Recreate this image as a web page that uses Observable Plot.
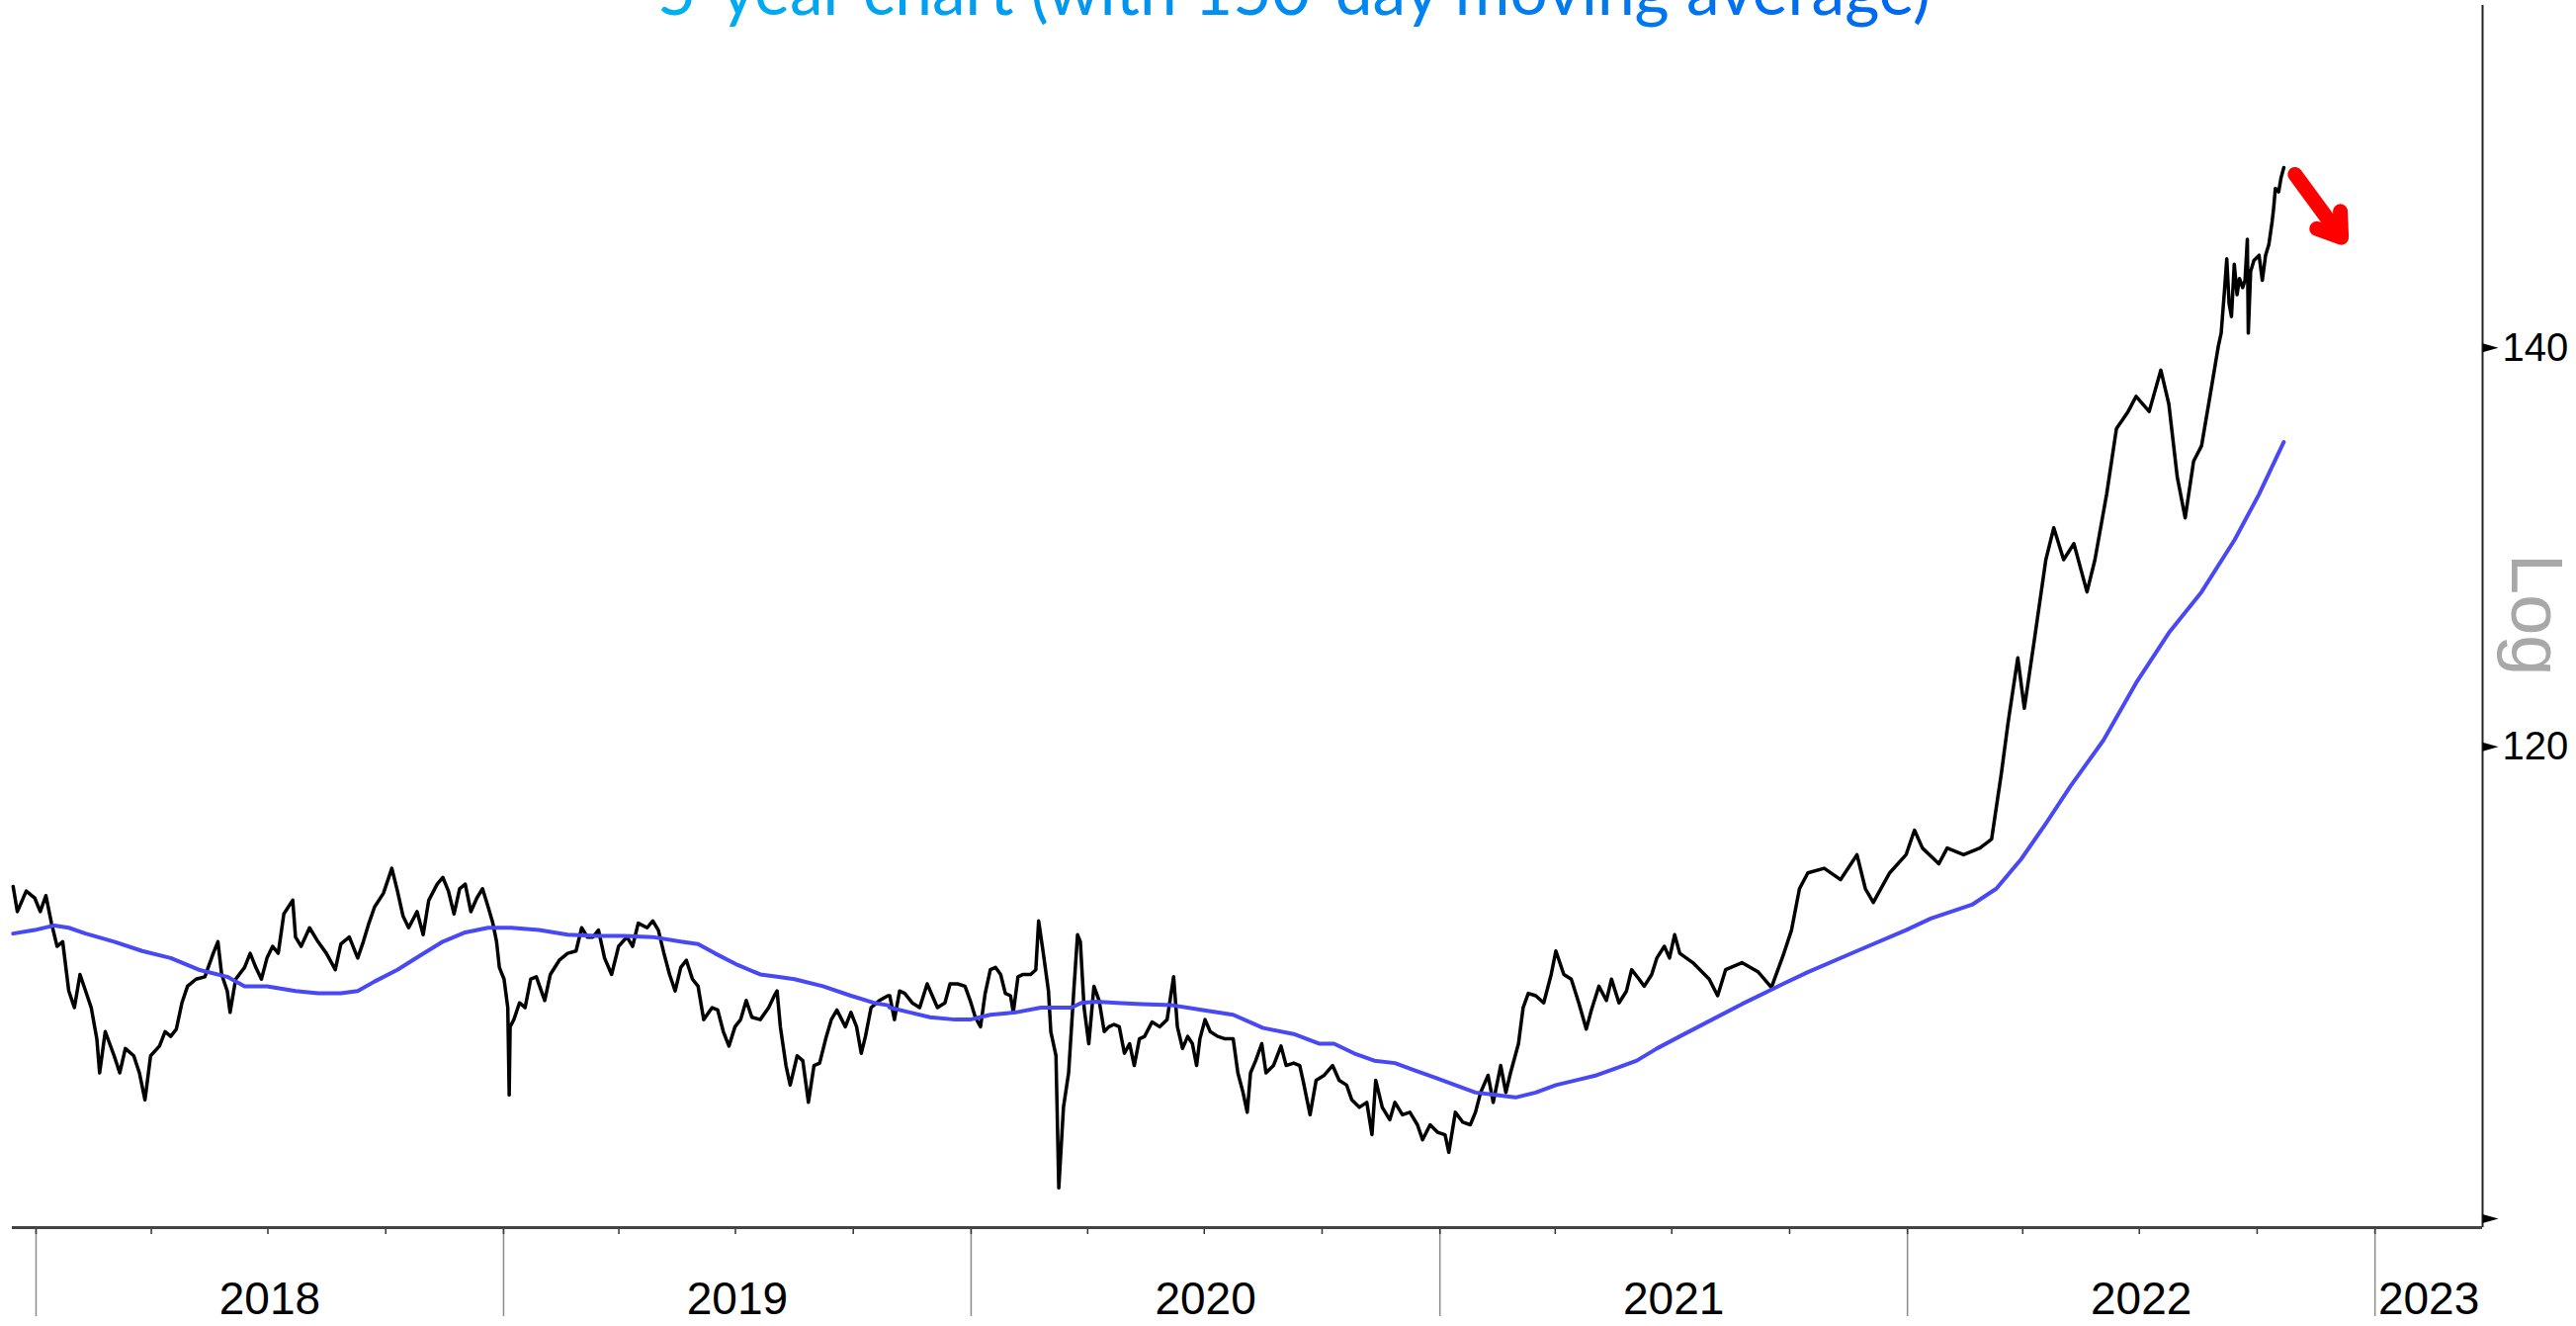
<!DOCTYPE html>
<html><head><meta charset="utf-8">
<script src="https://cdn.jsdelivr.net/npm/d3@7"></script>
<script src="https://cdn.jsdelivr.net/npm/@observablehq/plot@0.6"></script>
<style>
html,body{margin:0;padding:0;background:#fff;overflow:hidden}
#wrap{position:relative;width:2606px;height:1341px}
#title{position:absolute;left:0;top:0}
</style></head><body>
<div id="wrap"><div id="chart"></div>
<svg id="title" width="2606" height="40">
<defs><linearGradient id="tg" x1="665" x2="1953" y1="0" y2="0" gradientUnits="userSpaceOnUse">
<stop offset="0" stop-color="#00b0f0"/><stop offset="1" stop-color="#0066f0"/></linearGradient></defs>
<text x="665" y="15" font-family="Lato, 'Open Sans', sans-serif" font-size="70" textLength="1288" lengthAdjust="spacingAndGlyphs" fill="url(#tg)">5-year chart (with 150-day moving average)</text>
</svg></div>
<script>
// decimal-year, value pairs
const priceA = [[2017.951,113.7],[2017.960,112.6],[2017.979,113.5],[2017.997,113.2],[2018.009,112.6],[2018.021,113.3],[2018.033,112.1],[2018.045,111.1],[2018.057,111.3],[2018.070,109.2],[2018.082,108.5],[2018.094,109.9],[2018.106,109.2],[2018.118,108.5],[2018.130,107.2],[2018.136,105.8],[2018.148,107.5],[2018.167,106.5],[2018.179,105.8],[2018.191,106.8],[2018.209,106.5],[2018.221,105.8],[2018.233,104.7],[2018.245,106.5],[2018.264,106.9],[2018.276,107.5],[2018.288,107.3],[2018.300,107.6],[2018.312,108.7],[2018.324,109.4],[2018.342,109.7],[2018.361,109.8],[2018.379,110.8],[2018.389,111.3],[2018.397,109.9],[2018.409,109.2],[2018.415,108.3],[2018.427,109.7],[2018.446,110.2],[2018.458,110.8],[2018.470,110.2],[2018.482,109.7],[2018.494,110.6],[2018.506,111.1],[2018.518,110.8],[2018.530,112.5],[2018.549,113.1],[2018.555,111.5],[2018.567,111.1],[2018.585,111.9],[2018.603,111.3],[2018.621,110.8],[2018.640,110.1],[2018.652,111.2],[2018.670,111.5],[2018.688,110.6],[2018.700,111.3],[2018.712,112.1],[2018.724,112.8],[2018.743,113.4],[2018.761,114.5],[2018.773,113.5],[2018.785,112.4],[2018.797,111.9],[2018.815,112.6],[2018.828,111.6],[2018.840,113.1],[2018.858,113.8],[2018.870,114.1],[2018.882,113.5],[2018.894,112.5],[2018.906,113.6],[2018.918,113.8],[2018.930,112.6],[2018.943,113.2],[2018.955,113.6],[2018.967,112.8],[2018.977,112.1],[2018.985,111.3],[2018.991,110.2],[2019.001,109.7],[2019.009,108.5],[2019.012,104.9],[2019.014,107.7],[2019.022,108.0],[2019.034,108.7],[2019.046,108.5],[2019.058,109.7],[2019.070,109.8],[2019.088,108.8],[2019.100,109.9],[2019.119,110.5],[2019.137,110.8],[2019.155,110.9],[2019.167,111.9],[2019.179,111.5],[2019.191,111.5],[2019.203,111.8],[2019.216,110.6],[2019.231,109.9],[2019.246,111.1],[2019.264,111.5],[2019.276,111.1],[2019.288,112.1],[2019.307,111.9],[2019.319,112.2],[2019.331,111.8],[2019.343,110.8],[2019.355,109.9],[2019.367,109.2],[2019.379,110.2],[2019.391,110.5],[2019.404,109.7],[2019.416,109.4],[2019.428,108.0],[2019.446,108.5],[2019.458,108.4],[2019.470,107.5],[2019.482,106.9],[2019.495,107.7],[2019.507,108.0],[2019.519,108.8],[2019.531,108.1],[2019.549,108.0],[2019.567,108.5],[2019.579,109.0],[2019.585,109.2],[2019.592,107.7],[2019.604,106.1],[2019.613,105.3],[2019.628,106.5],[2019.640,106.3],[2019.652,104.6],[2019.664,106.1],[2019.676,106.2],[2019.689,107.2],[2019.701,108.0],[2019.713,108.4],[2019.731,107.7],[2019.743,108.3],[2019.755,107.7],[2019.765,106.6],[2019.774,107.3],[2019.786,108.5],[2019.804,108.8],[2019.822,109.0]];
const priceB = [[2019.826,109.0],[2019.836,108.0],[2019.847,109.2],[2019.858,109.1],[2019.874,108.7],[2019.890,108.5],[2019.906,109.5],[2019.917,109.0],[2019.928,108.5],[2019.944,108.7],[2019.955,109.5],[2019.971,109.5],[2019.987,109.4],[2019.998,108.8],[2020.009,108.1],[2020.020,107.7],[2020.030,109.1],[2020.041,110.1],[2020.052,110.2],[2020.063,109.9],[2020.073,109.1],[2020.084,109.0],[2020.090,108.3],[2020.100,109.8],[2020.111,109.9],[2020.127,109.9],[2020.138,110.1],[2020.144,112.2],[2020.154,110.8],[2020.165,109.2],[2020.170,107.5],[2020.181,106.5],[2020.187,101.2],[2020.197,104.4],[2020.208,105.8],[2020.219,109.2],[2020.227,111.6],[2020.233,111.3],[2020.241,108.5],[2020.251,107.0],[2020.262,109.4],[2020.273,108.8],[2020.284,107.5],[2020.294,107.7],[2020.305,107.8],[2020.316,107.7],[2020.327,106.6],[2020.338,107.0],[2020.348,106.1],[2020.359,107.2],[2020.370,107.3],[2020.386,107.9],[2020.402,107.7],[2020.418,108.0],[2020.432,109.8],[2020.440,107.7],[2020.451,106.8],[2020.462,107.3],[2020.472,107.0],[2020.481,106.1],[2020.488,107.2],[2020.499,108.0],[2020.510,107.5],[2020.526,107.3],[2020.542,107.2],[2020.559,107.2],[2020.569,105.8],[2020.580,105.0],[2020.589,104.2],[2020.596,105.8],[2020.607,106.3],[2020.620,107.0],[2020.629,105.8],[2020.645,106.1],[2020.661,106.9],[2020.672,106.1],[2020.688,106.2],[2020.701,106.1],[2020.709,105.4],[2020.723,104.1],[2020.736,105.5],[2020.753,105.7],[2020.771,106.1],[2020.785,105.5],[2020.801,105.3],[2020.812,104.7],[2020.828,104.4],[2020.844,104.6],[2020.855,103.3],[2020.863,105.5],[2020.877,104.4],[2020.893,103.9],[2020.904,104.6],[2020.920,104.1],[2020.936,104.2],[2020.952,103.7],[2020.963,103.1],[2020.979,103.7],[2020.995,103.4],[2021.011,103.3],[2021.019,102.6],[2021.033,104.2],[2021.049,103.8],[2021.065,103.7],[2021.076,104.2],[2021.087,105.0],[2021.103,105.7],[2021.114,104.6],[2021.130,106.1],[2021.141,105.0],[2021.151,105.8],[2021.168,107.0],[2021.178,108.5],[2021.189,109.1],[2021.205,109.0],[2021.222,108.7],[2021.238,109.9],[2021.248,110.9],[2021.265,109.9],[2021.281,109.7],[2021.297,108.7],[2021.313,107.6],[2021.324,108.4],[2021.340,109.4],[2021.356,108.8],[2021.367,109.7],[2021.383,108.7],[2021.399,109.2],[2021.410,110.1],[2021.426,109.7],[2021.437,109.4],[2021.453,109.9],[2021.464,110.6],[2021.480,111.1],[2021.491,110.6],[2021.502,111.6],[2021.513,110.8]];
const priceC = [[2021.541,110.4],[2021.576,109.7],[2021.594,109.0],[2021.611,110.1],[2021.646,110.4],[2021.681,110.0],[2021.709,109.35],[2021.734,110.7],[2021.752,111.8],[2021.769,113.6],[2021.787,114.3],[2021.822,114.5],[2021.857,114.0],[2021.892,115.1],[2021.910,113.6],[2021.927,113.0],[2021.962,114.3],[2021.997,115.1],[2022.015,116.2],[2022.032,115.4],[2022.067,114.7],[2022.085,115.4],[2022.120,115.1],[2022.155,115.4],[2022.180,115.8],[2022.201,118.8],[2022.215,121.1],[2022.236,124.2],[2022.250,121.8],[2022.271,125.0],[2022.296,129.0],[2022.313,130.6],[2022.334,129.0],[2022.356,129.8],[2022.384,127.4],[2022.401,129.0],[2022.426,132.3],[2022.447,135.7],[2022.472,136.6],[2022.489,137.4],[2022.517,136.6],[2022.542,138.8],[2022.559,137.0],[2022.577,133.2],[2022.594,131.1],[2022.612,134.0],[2022.629,134.8],[2022.647,137.4],[2022.665,140.1],[2022.671,140.8],[2022.678,143.1],[2022.683,144.9],[2022.688,142.4],[2022.693,141.7],[2022.699,144.6],[2022.705,142.9],[2022.710,143.8],[2022.717,143.3],[2022.722,143.7],[2022.727,146.0],[2022.729,140.8],[2022.734,144.2],[2022.741,144.8],[2022.752,145.1],[2022.759,143.7],[2022.766,145.1],[2022.773,145.7],[2022.780,147.0],[2022.783,147.7],[2022.787,148.9],[2022.794,148.7],[2022.799,149.5],[2022.805,150.1]];

const maA = [[2017.951,111.65],[2017.997,111.8],[2018.039,112.0],[2018.070,111.9],[2018.106,111.65],[2018.167,111.3],[2018.227,110.9],[2018.288,110.6],[2018.348,110.1],[2018.409,109.8],[2018.446,109.4],[2018.494,109.4],[2018.555,109.2],[2018.603,109.1],[2018.652,109.1],[2018.688,109.2],[2018.724,109.6],[2018.773,110.1],[2018.821,110.7],[2018.870,111.3],[2018.918,111.7],[2018.967,111.9],[2019.016,111.9],[2019.076,111.8],[2019.137,111.6],[2019.197,111.55],[2019.258,111.55],[2019.319,111.5],[2019.379,111.3],[2019.416,111.2],[2019.452,110.8],[2019.501,110.3],[2019.549,109.9],[2019.585,109.8],[2019.622,109.7],[2019.683,109.4],[2019.743,109.0],[2019.792,108.7],[2019.822,108.6]];
const maB = [[2019.826,108.5],[2019.869,108.3],[2019.912,108.1],[2019.966,108.0],[2019.998,108.0],[2020.041,108.2],[2020.095,108.3],[2020.149,108.5],[2020.214,108.5],[2020.235,108.7],[2020.267,108.75],[2020.311,108.7],[2020.364,108.65],[2020.429,108.6],[2020.494,108.4],[2020.559,108.2],[2020.623,107.65],[2020.688,107.4],[2020.742,107.0],[2020.774,107.0],[2020.817,106.6],[2020.860,106.3],[2020.904,106.2],[2020.947,105.9],[2020.990,105.6],[2021.033,105.3],[2021.076,105.0],[2021.119,104.9],[2021.162,104.8],[2021.205,105.0],[2021.248,105.3],[2021.292,105.5],[2021.335,105.7],[2021.378,106.0],[2021.421,106.3],[2021.464,106.8],[2021.513,107.3]];
const maC = [[2021.646,108.65],[2021.734,109.5],[2021.787,110.0],[2021.892,110.9],[2021.997,111.8],[2022.050,112.3],[2022.138,112.9],[2022.190,113.6],[2022.243,114.9],[2022.296,116.5],[2022.349,118.2],[2022.419,120.3],[2022.489,123.0],[2022.559,125.4],[2022.629,127.4],[2022.700,130.0],[2022.752,132.3],[2022.805,135.0]];

const years = [2018, 2019, 2020, 2021, 2022, 2023];
const yTicks = [100, 120, 140];
const yLabels = [120, 140];
const arrowSeg = [{t1: 2022.829, v1: 149.7, t2: 2022.928, v2: 146.1}];
const xDomainStr = ["2017-12-13T12:00:00Z", "2023-03-26T00:00:00Z"];
const yDomain = [99.66, 159.8];

const toDate = t => { const y = Math.floor(t); const a = Date.UTC(y,0,1), b = Date.UTC(y+1,0,1); return new Date(a + (t - y) * (b - a)); };
const toRows = arr => arr.map(([t, v]) => ({date: toDate(t), value: v}));
const price = toRows([...priceA, ...priceB, ...priceC]);
const ma = toRows([...maA, ...maB, ...maC]);
const xDomain = xDomainStr.map(s => new Date(s));
const yearStarts = years.map(y => new Date(Date.UTC(y, 0, 1)));
const quarterStarts = d3.utcMonth.every(3).range(xDomain[0], xDomain[1]);
const yearMids = years.map(y => {
  const a = Math.max(Date.UTC(y,0,1), +xDomain[0]), b = Math.min(Date.UTC(y+1,0,1), +xDomain[1]);
  return {date: new Date((a + b) / 2), label: String(y)};
});
const arrows = arrowSeg.map(d => ({x1: toDate(d.t1), y1: d.v1, x2: toDate(d.t2), y2: d.v2}));
const FONT = "'Liberation Sans', Arial, sans-serif";

const tri = {draw(ctx, l, r) { ctx.moveTo(-4.5, 0); ctx.lineTo(0, -l); ctx.lineTo(4.5, 0); ctx.closePath(); }};

const chart = Plot.plot({
  width: 2606, height: 1341,
  marginLeft: 12, marginRight: 95, marginTop: 5, marginBottom: 100,
  style: {fontFamily: FONT, background: "white", overflow: "visible"},
  x: {type: "utc", domain: xDomain},
  y: {type: "log", domain: yDomain, axis: null},
  marks: [
    Plot.axisX({ticks: yearStarts, tickSize: 90, tickFormat: () => "", stroke: "#8c8c8c", strokeWidth: 1.5}),
    Plot.axisX({ticks: quarterStarts, tickSize: 7, tickFormat: () => "", stroke: "#333", strokeWidth: 1.5}),
    Plot.ruleY([yDomain[0]], {stroke: "#444", strokeWidth: 3}),
    Plot.ruleX([xDomain[1]], {stroke: "#222", strokeWidth: 2}),
    Plot.text(yearMids, {x: "date", text: "label", frameAnchor: "bottom", dy: 87, fontSize: 46, fill: "#000", fontFamily: FONT}),
    Plot.vector(yTicks, {y: d => d, frameAnchor: "right", rotate: 90, length: 16, anchor: "start", shape: tri, fill: "#000", stroke: "none"}),
    Plot.text(yLabels, {y: d => d, text: d => String(d), frameAnchor: "right", dx: 20, textAnchor: "start", fontSize: 40, fill: "#000", fontFamily: FONT}),
    Plot.text(["Log"], {frameAnchor: "right", dx: 53, dy: 60, rotate: 90, fontSize: 74, fill: "#a8a8a8", fontFamily: FONT}),
    Plot.line(price, {x: "date", y: "value", stroke: "#000", strokeWidth: 3.5}),
    Plot.line(ma, {x: "date", y: "value", stroke: "#4848f4", strokeWidth: 4}),
    Plot.arrow(arrows, {x1: "x1", y1: "y1", x2: "x2", y2: "y2", stroke: "#ff0000", strokeWidth: 15, headAngle: 68, headLength: 20})
  ]
});
document.getElementById("chart").appendChild(chart);
</script>
</body></html>
